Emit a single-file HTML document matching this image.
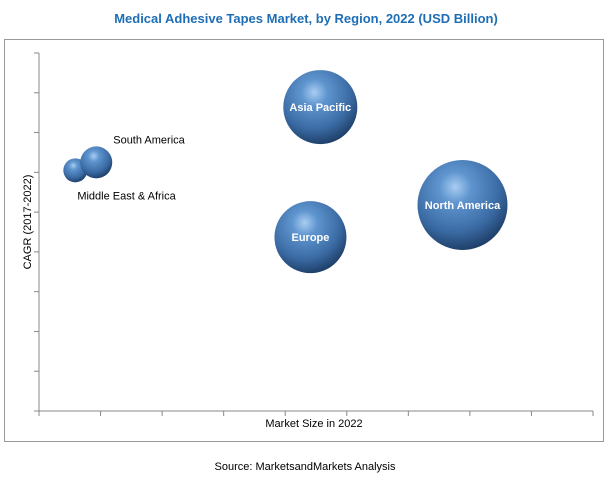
<!DOCTYPE html>
<html><head><meta charset="utf-8"><style>
body{margin:0;background:#fff;width:611px;height:480px;overflow:hidden;font-family:"Liberation Sans",sans-serif}
</style></head><body>
<svg id="chart" width="611" height="480" xmlns="http://www.w3.org/2000/svg">
<defs>
<radialGradient id="ball" cx="0.42" cy="0.32" r="0.7" fx="0.42" fy="0.3">
<stop offset="0" stop-color="#a9cdf2"/>
<stop offset="0.25" stop-color="#5f95cf"/>
<stop offset="0.7" stop-color="#3a6aa3"/>
<stop offset="1" stop-color="#1d3d66"/>
</radialGradient>
</defs>
<text x="306" y="23" text-anchor="middle" font-size="13" font-weight="bold" fill="#1f6eb5">Medical Adhesive Tapes Market, by Region, 2022 (USD Billion)</text>
<rect x="4.5" y="39.5" width="599" height="402" fill="none" stroke="#999" stroke-width="1"/>
<g id="axes"></g>
<g id="bubbles"></g>
<text transform="translate(31,222) rotate(-90)" text-anchor="middle" font-size="11" fill="#000">CAGR (2017-2022)</text>
<text x="314" y="427" text-anchor="middle" font-size="11" fill="#000">Market Size in 2022</text>
<text x="305" y="470" text-anchor="middle" font-size="11" fill="#000">Source: MarketsandMarkets Analysis</text>
</svg>
<script>
const regions = ["Middle East & Africa","South America","Asia Pacific","Europe","North America"];
const marketSize = [0.59,0.93,4.57,4.41,6.88];
const cagr = [6.05,6.25,7.64,4.37,5.18];
const bubbleSize = [12,16,37,36,45];
const xTicks = [0,1,2,3,4,5,6,7,8,9];
const yTicks = [0,1,2,3,4,5,6,7,8,9];
const NS="http://www.w3.org/2000/svg";
const x0=39,x1=593,y0=411,y1=53;
const xs=v=>x0+v/9*(x1-x0);
const ys=v=>y0-v/9*(y0-y1);
const ax=document.getElementById('axes');
function mk(t,a,p){const e=document.createElementNS(NS,t);for(const k in a)e.setAttribute(k,a[k]);p.appendChild(e);return e;}
let l=mk('line',{x1:x0,y1:y0,x2:x1,y2:y0,stroke:'#888'},ax);


l=mk('line',{x1:x0,y1:y0,x2:x0,y2:y1,stroke:'#888'},ax);


xTicks.forEach(t=>{const e=mk('line',{x1:xs(t),y1:y0,x2:xs(t),y2:y0+5,stroke:'#888'},ax);

});
yTicks.forEach(t=>{const e=mk('line',{x1:x0-5,y1:ys(t),x2:x0,y2:ys(t),stroke:'#888'},ax);

});
const bg=document.getElementById('bubbles');
regions.forEach((r,i)=>{
 const cx=xs(marketSize[i]),cy=ys(cagr[i]),rad=bubbleSize[i];
 const c=mk('circle',{cx:cx,cy:cy,r:rad,fill:'url(#ball)'},bg);
 
 
 let t;
 if(rad>25){t=mk('text',{x:cx,y:cy+4,'text-anchor':'middle','font-size':11,'font-weight':'bold',fill:'#fff'},bg);}
 else if(i===0){t=mk('text',{x:cx+2,y:cy+29,'font-size':11,fill:'#000'},bg);}
 else{t=mk('text',{x:cx+17,y:cy-19,'font-size':11,fill:'#000'},bg);}
 t.textContent=r;
 
 
});
</script>
</body></html>
